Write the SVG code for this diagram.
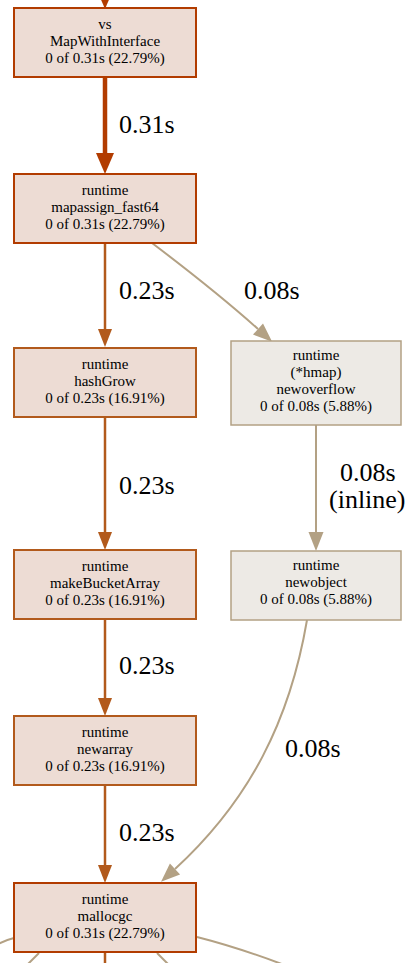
<svg xmlns="http://www.w3.org/2000/svg" width="418" height="963" viewBox="0 0 418 963">
<style>
.nodeHot rect{fill:#eddcd4;stroke:#b23c00;stroke-width:2}
.nodeMed rect{fill:#eddcd4;stroke:#b25a1c;stroke-width:2}
.nodeCool rect{fill:#edeae5;stroke:#b3a184;stroke-width:1.5}
.nt{font-size:15px;fill:#000;text-anchor:middle}
.el{font-size:26px;fill:#000}
.eHot{fill:none;stroke:#b23c00;stroke-width:4.5}
.eMed{fill:none;stroke:#b25a1c;stroke-width:2.5}
.eCool{fill:none;stroke:#b3a184;stroke-width:2}
</style>
<defs>
<marker id="aHot" markerUnits="userSpaceOnUse" viewBox="0 0 22 20" markerWidth="22" markerHeight="20" refX="0" refY="10" orient="auto" overflow="visible"><path d="M0,1 L21,10 L0,19 z" fill="#b23c00"/></marker>
<marker id="aMed" markerUnits="userSpaceOnUse" viewBox="0 0 19 16" markerWidth="19" markerHeight="16" refX="0" refY="8" orient="auto" overflow="visible"><path d="M0,1 L18,8 L0,15 z" fill="#b25a1c"/></marker>
<marker id="aCool" markerUnits="userSpaceOnUse" viewBox="0 0 20 16" markerWidth="20" markerHeight="16" refX="0" refY="8" orient="auto" overflow="visible"><path d="M0,0.5 L19,8 L0,15.5 z" fill="#b3a184"/></marker>
</defs>
<g id="edges" font-family="Liberation Serif">
<path class="eHot" d="M105,-20 L105,-12" marker-end="url(#aHot)"/>
<path class="eHot" d="M105,77 L105,153" marker-end="url(#aHot)"/>
<text class="el" x="119" y="133">0.31s</text>
<path class="eMed" d="M105,243 L105,329" marker-end="url(#aMed)"/>
<text class="el" x="119" y="299">0.23s</text>
<path class="eCool" d="M152,243 C185,268 220,295 258,329" marker-end="url(#aCool)"/>
<text class="el" x="244" y="299">0.08s</text>
<path class="eMed" d="M105,418 L105,532" marker-end="url(#aMed)"/>
<text class="el" x="119" y="494">0.23s</text>
<path class="eCool" d="M316,425 L316,532" marker-end="url(#aCool)"/>
<text class="el" x="340" y="481">0.08s</text>
<text class="el" x="329" y="508">(inline)</text>
<path class="eMed" d="M105,619 L105,698" marker-end="url(#aMed)"/>
<text class="el" x="119" y="674">0.23s</text>
<path class="eCool" d="M307,620 C290,720 250,800 175,869" marker-end="url(#aCool)"/>
<text class="el" x="285" y="757">0.08s</text>
<path class="eMed" d="M105,785 L105,865" marker-end="url(#aMed)"/>
<text class="el" x="119" y="841">0.23s</text>
<path class="eCool" d="M14,938 Q6,940 -2,944"/>
<path class="eCool" d="M39,953 L27,965"/>
<path class="eMed" d="M105,952 L105,965"/>
<path class="eCool" d="M157,953 L170,966"/>
<path class="eCool" d="M197,937 Q240,948 287,966"/>
</g>
<g id="node-vs-MapWithInterface" class="nodeHot" font-family="Liberation Serif">
<rect x="14" y="8" width="182" height="69"/>
<text class="nt" x="105" y="29">vs</text>
<text class="nt" x="105" y="46">MapWithInterface</text>
<text class="nt" x="105" y="63">0 of 0.31s (22.79%)</text>
</g>
<g id="node-mapassign_fast64" class="nodeHot" font-family="Liberation Serif">
<rect x="14" y="174" width="182" height="69"/>
<text class="nt" x="105" y="195">runtime</text>
<text class="nt" x="105" y="212">mapassign_fast64</text>
<text class="nt" x="105" y="229">0 of 0.31s (22.79%)</text>
</g>
<g id="node-hashGrow" class="nodeMed" font-family="Liberation Serif">
<rect x="14" y="348" width="182" height="69"/>
<text class="nt" x="105" y="369">runtime</text>
<text class="nt" x="105" y="386">hashGrow</text>
<text class="nt" x="105" y="403">0 of 0.23s (16.91%)</text>
</g>
<g id="node-newoverflow" class="nodeCool" font-family="Liberation Serif">
<rect x="231" y="341" width="170" height="84"/>
<text class="nt" x="316" y="360">runtime</text>
<text class="nt" x="316" y="377">(*hmap)</text>
<text class="nt" x="316" y="394">newoverflow</text>
<text class="nt" x="316" y="411">0 of 0.08s (5.88%)</text>
</g>
<g id="node-makeBucketArray" class="nodeMed" font-family="Liberation Serif">
<rect x="14" y="550" width="182" height="69"/>
<text class="nt" x="105" y="571">runtime</text>
<text class="nt" x="105" y="588">makeBucketArray</text>
<text class="nt" x="105" y="605">0 of 0.23s (16.91%)</text>
</g>
<g id="node-newobject" class="nodeCool" font-family="Liberation Serif">
<rect x="231" y="551" width="170" height="69"/>
<text class="nt" x="316" y="570">runtime</text>
<text class="nt" x="316" y="587">newobject</text>
<text class="nt" x="316" y="604">0 of 0.08s (5.88%)</text>
</g>
<g id="node-newarray" class="nodeMed" font-family="Liberation Serif">
<rect x="14" y="716" width="182" height="69"/>
<text class="nt" x="105" y="737">runtime</text>
<text class="nt" x="105" y="754">newarray</text>
<text class="nt" x="105" y="771">0 of 0.23s (16.91%)</text>
</g>
<g id="node-mallocgc" class="nodeHot" font-family="Liberation Serif">
<rect x="14" y="883" width="182" height="69"/>
<text class="nt" x="105" y="904">runtime</text>
<text class="nt" x="105" y="921">mallocgc</text>
<text class="nt" x="105" y="938">0 of 0.31s (22.79%)</text>
</g>
</svg>
